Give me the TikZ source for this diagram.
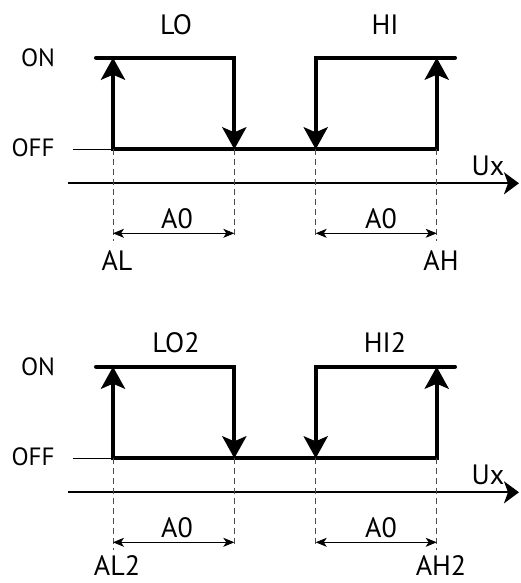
\documentclass[tikz,border=0pt]{standalone}
\usepackage{fontspec}
\setmainfont{PT Sans}
\usetikzlibrary{arrows.meta}

\tikzset{
  lbl/.style={font=\fontsize{28}{32}\selectfont, inner sep=0pt},
  lvl/.style={font=\fontsize{25}{29}\selectfont, inner sep=0pt},
  relay/.style={line width=4pt, line cap=round, line join=miter},
  relaytip/.style={-{Stealth[length=22pt, width=24pt, inset=5pt]}},
  axis/.style={line width=2pt, -{Stealth[length=15pt, width=22pt, inset=4pt]}},
  dim/.style={line width=0.8pt, {Stealth[length=11pt, width=9pt, inset=3pt]}-{Stealth[length=11pt, width=9pt, inset=3pt]}},
  guide/.style={line width=0.8pt, dash pattern=on 6pt off 4pt, black!70}
}

\begin{document}
\begin{tikzpicture}[x=1pt, y=-1pt, >=Stealth]
\useasboundingbox (0,0) rectangle (520,583);

\foreach \p/\dy/\ty/\by/\lo/\hi/\al/\ah in {a/0/25/261/LO/HI/AL/AH, b/309/34/257/LO2/HI2/AL2/AH2} {
\begin{scope}[yshift=-\dy pt]
% Switching points
\coordinate (\p-on-start) at (96,57.7);
\coordinate (\p-on-end) at (455,57.7);
\coordinate (\p-off-start) at (73,149.3);
\coordinate (\p-al-on) at (113,57.7);
\coordinate (\p-al-off) at (113,149.3);
\coordinate (\p-lo-on) at (234.3,57.7);
\coordinate (\p-lo-off) at (234.3,149.3);
\coordinate (\p-hi-on) at (315.7,57.7);
\coordinate (\p-hi-off) at (315.7,149.3);
\coordinate (\p-ah-on) at (436.7,57.7);
\coordinate (\p-ah-off) at (436.7,149.3);
\coordinate (\p-ax-start) at (68,183.3);
\coordinate (\p-ax-end) at (519,183.3);
\coordinate (\p-dim) at (0,233.3);
\coordinate (\p-long) at (0,241);
\coordinate (\p-short) at (0,235);

% Levels
\node[lvl] (\p-on) at (38,58) {ON};
\node[lvl] (\p-off) at (33,148) {OFF};
\draw[line width=0.8pt] (\p-off-start) -- (\p-al-off);

% Relay LO
\draw[relay, <->, >={Stealth[length=22pt, width=24pt, inset=5pt]}]
  (\p-al-on) -- (\p-al-off) -- (\p-ah-off) -- (\p-ah-on);
\draw[relay, relaytip] (\p-on-start) -- (\p-lo-on) -- (\p-lo-off);
\node[lbl] (\p-lo) at (176,\ty) {\lo};

% Relay HI
\draw[relay, relaytip] (\p-on-end) -- (\p-hi-on) -- (\p-hi-off);
\node[lbl] (\p-hi) at (385,\ty) {\hi};

% Axis
\draw[axis] (\p-ax-start) -- (\p-ax-end);
\node[lbl] (\p-ux) at (488,166) {Ux};

% Guides
\draw[guide] (\p-al-off) -- (\p-al-off |- \p-long);
\draw[guide] (\p-lo-off) -- (\p-lo-off |- \p-short);
\draw[guide] (\p-hi-off) -- (\p-hi-off |- \p-short);
\draw[guide] (\p-ah-off) -- (\p-ah-off |- \p-long);

% Dimensions
\draw[dim] (\p-al-off |- \p-dim) -- (\p-lo-off |- \p-dim);
\node[lbl] (\p-a0l) at (177,219) {A0};
\draw[dim] (\p-hi-off |- \p-dim) -- (\p-ah-off |- \p-dim);
\node[lbl] (\p-a0h) at (381,219) {A0};
\node[lbl] (\p-al) at (117,\by) {\al};
\node[lbl] (\p-ah) at (441,\by) {\ah};
\end{scope}
}
\end{tikzpicture}
\end{document}
